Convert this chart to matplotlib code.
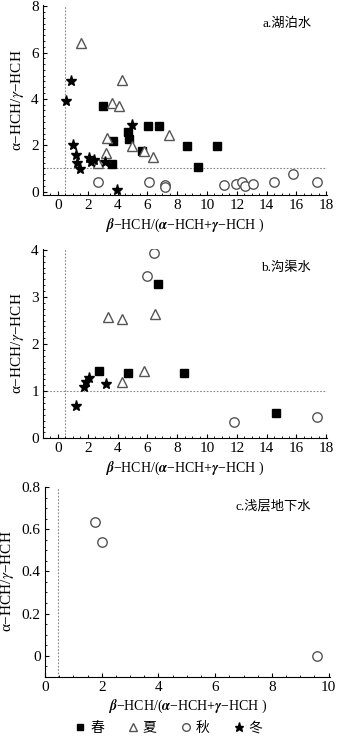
import matplotlib
matplotlib.use("Agg")
import matplotlib.pyplot as plt
from matplotlib.ticker import MultipleLocator, FuncFormatter
from matplotlib.lines import Line2D

plt.rcParams['font.family'] = ['Liberation Serif', 'Noto Sans CJK SC']
plt.rcParams['mathtext.fontset'] = 'stix'
plt.rcParams['axes.unicode_minus'] = False

# ---- a. lake water ----
a_spring_x = [3.04, 3.68, 3.64, 4.69, 4.80, 5.65, 6.03, 6.77, 8.67, 10.68, 9.38]
a_spring_y = [3.70, 2.16, 1.18, 2.55, 2.26, 1.77, 2.84, 2.81, 1.98, 1.98, 1.05]
a_summer_x = [1.52, 4.33, 3.60, 4.11, 3.31, 3.20, 4.98, 5.76, 6.39, 7.43, 2.70]
a_summer_y = [6.41, 4.83, 3.82, 3.67, 2.31, 1.66, 1.95, 1.73, 1.49, 2.45, 1.23]
a_autumn_x = [2.68, 6.10, 7.15, 7.15, 11.12, 11.97, 12.35, 12.57, 13.08, 14.47, 15.77, 17.37]
a_autumn_y = [0.43, 0.43, 0.30, 0.18, 0.29, 0.33, 0.43, 0.22, 0.33, 0.39, 0.75, 0.43]
a_winter_x = [0.51, 0.89, 1.00, 1.19, 1.30, 1.45, 2.08, 2.19, 2.45, 3.15, 3.98, 4.94]
a_winter_y = [3.89, 4.78, 2.02, 1.59, 1.23, 0.97, 1.44, 1.27, 1.35, 1.27, 0.07, 2.88]

# ---- b. ditch water ----
b_spring_x = [2.75, 4.71, 8.44, 6.74, 14.65]
b_spring_y = [1.43, 1.39, 1.38, 3.27, 0.54]
b_summer_x = [3.35, 4.27, 6.50, 5.76, 4.31]
b_summer_y = [2.57, 2.54, 2.64, 1.43, 1.20]
b_autumn_x = [6.43, 6.00, 11.79, 17.37]
b_autumn_y = [3.93, 3.44, 0.35, 0.46]
b_winter_x = [1.19, 1.74, 1.90, 2.08, 3.24]
b_winter_y = [0.68, 1.09, 1.20, 1.27, 1.16]

# ---- c. shallow groundwater ----
c_autumn_x = [1.75, 2.02, 9.59]
c_autumn_y = [0.633, 0.538, 0.0]

season_labels = ['春', '夏', '秋', '冬']
xlabel = r'$\boldsymbol{\beta}$−HCH/($\boldsymbol{\alpha}$−HCH+$\boldsymbol{\gamma}$−HCH )'
ylabel = r'α−HCH/$\gamma$−HCH'

W, H = 344, 740
fig = plt.figure(figsize=(W / 100, H / 100), dpi=100)

def frac(l, t, r, b):
    return [l / W, 1 - b / H, (r - l) / W, (b - t) / H]

ax_a = fig.add_axes(frac(43, 5, 327, 195))
ax_b = fig.add_axes(frac(43, 249, 327, 438.3))
ax_c = fig.add_axes(frac(45, 486.7, 330, 676.7))

spring_kw = dict(marker='s', ms=5.8, mfc='black', mec='black', ls='none')
summer_kw = dict(marker='^', ms=6.8, mfc='white', mec='#555555', mew=1.0, ls='none')
autumn_kw = dict(marker='o', ms=6.8, mfc='white', mec='#555555', mew=1.0, ls='none')
winter_kw = dict(marker='*', ms=8, mfc='black', mec='black', ls='none')

ref_kw = dict(color='#888888', lw=0.8, ls=(0, (1.5, 1.5)), zorder=1)

def style(ax, xmaj, xmin, ymaj, ymin):
    for s in ['top', 'right']:
        ax.spines[s].set_visible(False)
    for s in ['left', 'bottom']:
        ax.spines[s].set_linewidth(0.8)
    ax.xaxis.set_major_locator(MultipleLocator(xmaj))
    ax.xaxis.set_minor_locator(MultipleLocator(xmin))
    ax.yaxis.set_major_locator(MultipleLocator(ymaj))
    ax.yaxis.set_minor_locator(MultipleLocator(ymin))
    ax.yaxis.set_major_formatter(FuncFormatter(lambda v, p: f'{v:g}'))
    ax.xaxis.set_major_formatter(FuncFormatter(lambda v, p: f'{v:g}'))
    ax.tick_params(which='major', direction='in', length=3, width=0.8,
                   labelsize=11, pad=3)
    ax.tick_params(which='minor', direction='in', length=1.5, width=0.6)
    ax.set_xlabel(xlabel, fontsize=10, labelpad=3)
    ax.set_ylabel(ylabel, fontsize=11, labelpad=4)

# panel a
ax_a.plot(a_spring_x, a_spring_y, **spring_kw)
ax_a.plot(a_summer_x, a_summer_y, **summer_kw)
ax_a.plot(a_autumn_x, a_autumn_y, **autumn_kw)
ax_a.plot(a_winter_x, a_winter_y, **winter_kw)
ax_a.axhline(1, **ref_kw)
ax_a.axvline(0.5, **ref_kw)
ax_a.set_xlim(-1, 18.05)
ax_a.set_ylim(-0.15, 8.05)
style(ax_a, 2, 0.5, 2, 0.25)
ax_a.text(0.86, 0.9, 'a.湖泊水', transform=ax_a.transAxes, ha='center',
          va='center', fontsize=9.5)

# panel b
ax_b.plot(b_spring_x, b_spring_y, **spring_kw)
ax_b.plot(b_summer_x, b_summer_y, **summer_kw)
ax_b.plot(b_autumn_x, b_autumn_y, **autumn_kw)
ax_b.plot(b_winter_x, b_winter_y, **winter_kw)
ax_b.axhline(1, **ref_kw)
ax_b.axvline(0.5, **ref_kw)
ax_b.set_xlim(-1, 18.05)
ax_b.set_ylim(0, 4.02)
style(ax_b, 2, 0.5, 1, 0.125)
ax_b.text(0.855, 0.9, 'b.沟渠水', transform=ax_b.transAxes, ha='center',
          va='center', fontsize=9.5)

# panel c
ax_c.plot(c_autumn_x, c_autumn_y, **autumn_kw)
ax_c.axvline(0.45, **ref_kw)
ax_c.set_xlim(0, 10.05)
ax_c.set_ylim(-0.1, 0.802)
style(ax_c, 2, 0.5, 0.2, 0.05)
ax_c.text(0.8, 0.9, 'c.浅层地下水', transform=ax_c.transAxes, ha='center',
          va='center', fontsize=9.5)

# shared legend
handles = [
    Line2D([], [], marker='s', ms=5, mfc='black', mec='black', ls='none'),
    Line2D([], [], marker='^', ms=5.5, mfc='white', mec='#555555', ls='none'),
    Line2D([], [], marker='o', ms=5.5, mfc='white', mec='#555555', ls='none'),
    Line2D([], [], marker='*', ms=6.5, mfc='black', mec='black', ls='none'),
]
fig.legend(handles, season_labels, loc='center', bbox_to_anchor=(0.49, 1 - 728 / H),
           ncol=4, frameon=False, fontsize=10, handlelength=0.8,
           handletextpad=0.3, columnspacing=1.7)

fig.savefig('out.png', dpi=100)
